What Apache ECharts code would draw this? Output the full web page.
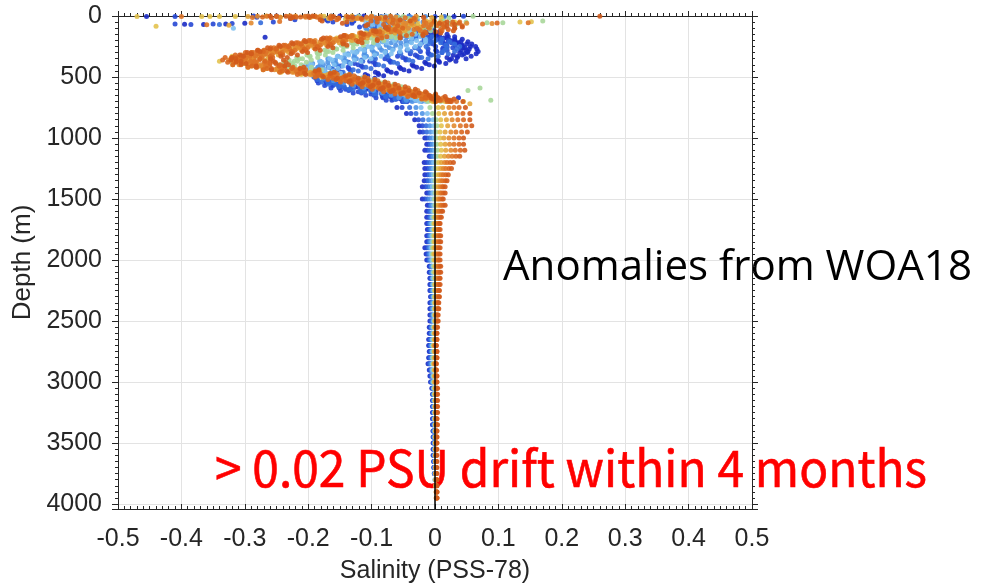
<!DOCTYPE html>
<html><head><meta charset="utf-8">
<script src="https://cdn.jsdelivr.net/npm/echarts@6/dist/echarts.min.js"></script>
<style>html,body{margin:0;padding:0;background:#fff}#c{width:992px;height:585px}</style>
</head><body><div id="c"></div>
<script>
// Colours of the 12 successive profile groups (early = blue, late = orange)
const profileColors = ['#1b2bc4','#2647d4','#346bdc','#4f93e6','#7fc0f0','#a9d79a',
                       '#e3c24e','#e3a43b','#e28a30','#de7428','#d96720','#d25b1c'];

// Upper ocean, first set of profiles: [depth (m), anomaly x1000 for P0..P11]
const shallowRows = [
[0,-150,-250,-120,-60,-200,-100,-230,-180,-220,-250,-200,-260],
[10,-128,-228,-96,-38,-182,-58,-196,-138,-204,-186,-162,-224],
[20,-134,-176,-108,-62,-141,-42,-107,-121,-137,-152,-88,-228],
[30,-96,-171,-71,-28,-139,-3,-82,-68,-131,-79,-66,-181],
[40,-104,-128,-79,-51,-104,14,-14,-57,-73,-58,-1,-178],
[50,-72,-131,-52,-19,-109,27,31,-9,-71,-2,28,-139],
[60,-79,-98,-81,-47,-86,3,-6,-41,-46,-14,38,-146],
[70,-57,-104,-64,-38,-99,8,4,-36,-59,-6,11,-106],
[80,-63,-76,-91,-58,-77,-14,-28,-63,-47,-18,43,-109],
[90,-42,-89,-79,-48,-88,-6,-21,-52,-54,-11,14,-78],
[100,-47,-62,-98,-67,-72,-27,-47,-63,-42,-28,31,-77],
[110,-24,-67,-73,-55,-86,-22,-58,-86,-68,-33,9,-74],
[120,-31,-43,-82,-64,-75,-47,-53,-78,-62,-61,11,-97],
[130,-9,-47,-59,-56,-85,-43,-77,-101,-87,-69,-16,-93],
[140,-14,-24,-64,-66,-74,-66,-73,-93,-83,-97,-14,-116],
[150,6,-26,-44,-54,-86,-64,-96,-117,-94,-104,-36,-113],
[160,2,-6,-48,-61,-72,-84,-96,-129,-106,-131,-45,-144],
[170,21,-11,-29,-44,-81,-79,-121,-128,-131,-134,-76,-149],
[180,14,9,-31,-54,-68,-101,-119,-151,-129,-166,-84,-176],
[190,31,4,-12,-36,-76,-96,-146,-154,-156,-169,-116,-179],
[200,24,21,-16,-46,-64,-116,-144,-176,-154,-196,-124,-206],
[210,41,12,-6,-39,-82,-112,-166,-174,-176,-194,-146,-204],
[220,34,26,-21,-54,-76,-132,-164,-196,-174,-216,-144,-226],
[230,50,18,-10,-46,-94,-129,-186,-194,-196,-214,-166,-224],
[240,42,32,-24,-62,-89,-148,-184,-216,-194,-236,-164,-246],
[250,56,19,-14,-54,-106,-144,-206,-214,-216,-234,-186,-244],
[260,44,28,-32,-72,-100,-162,-204,-236,-214,-254,-184,-264],
[270,54,12,-26,-66,-118,-156,-226,-234,-236,-250,-206,-260],
[280,41,19,-44,-84,-112,-174,-224,-256,-234,-270,-204,-280],
[290,52,3,-38,-78,-130,-168,-246,-254,-256,-266,-226,-276],
[300,39,11,-56,-96,-124,-186,-244,-276,-254,-286,-224,-296],
[310,46,-10,-54,-92,-142,-182,-264,-274,-274,-280,-244,-290],
[320,29,-7,-76,-112,-136,-202,-260,-296,-270,-298,-240,-308],
[330,36,-28,-74,-108,-154,-198,-280,-294,-290,-292,-260,-302],
[340,19,-25,-96,-128,-148,-218,-276,-316,-286,-310,-256,-320],
[350,26,-46,-94,-124,-166,-214,-296,-314,-306,-304,-276,-314],
[360,4,-46,-116,-144,-162,-230,-286,-320,-290,-306,-260,-322],
[370,6,-70,-114,-140,-182,-222,-300,-302,-298,-284,-268,-306],
[380,-16,-70,-136,-160,-178,-238,-290,-308,-282,-286,-252,-314],
[390,-14,-94,-134,-156,-198,-230,-304,-290,-290,-264,-260,-298],
[400,-36,-94,-156,-176,-194,-246,-294,-296,-274,-266,-244,-306],
[410,-34,-116,-150,-168,-208,-226,-294,-272,-272,-240,-246,-282],
[420,-56,-114,-168,-184,-198,-230,-270,-272,-246,-238,-224,-282],
[430,-54,-136,-162,-176,-212,-210,-270,-248,-244,-212,-226,-258],
[440,-76,-134,-180,-192,-202,-214,-246,-248,-218,-210,-204,-258],
[450,-74,-156,-174,-184,-216,-194,-246,-224,-216,-184,-206,-234],
[460,-94,-148,-187,-190,-192,-192,-216,-222,-190,-182,-184,-232],
[470,-90,-164,-176,-172,-192,-166,-210,-196,-188,-156,-186,-206],
[480,-110,-156,-189,-178,-168,-164,-180,-194,-162,-154,-164,-204],
[490,-106,-172,-178,-160,-168,-138,-174,-168,-160,-128,-166,-178],
[500,-126,-164,-191,-166,-144,-136,-144,-166,-134,-126,-144,-176],
[510,-116,-175,-176,-146,-148,-116,-146,-144,-138,-106,-148,-154],
[520,-130,-162,-185,-150,-128,-120,-124,-146,-118,-110,-128,-156],
[530,-120,-173,-170,-130,-132,-100,-126,-124,-122,-90,-132,-134],
[540,-134,-160,-179,-134,-112,-104,-104,-126,-102,-94,-112,-136],
[550,-124,-171,-164,-114,-116,-84,-106,-104,-106,-74,-116,-114],
[560,-132,-154,-168,-120,-96,-90,-86,-108,-86,-78,-96,-118],
[570,-116,-161,-148,-102,-100,-72,-90,-88,-90,-58,-100,-98],
[580,-124,-144,-152,-108,-80,-78,-70,-92,-70,-62,-80,-102],
[590,-108,-151,-132,-90,-84,-60,-74,-72,-74,-42,-84,-82],
[600,-116,-134,-136,-96,-64,-66,-54,-76,-54,-46,-64,-86],
[610,-96,-136,-114,-77,-70,-48,-58,-56,-58,-27,-68,-66],
[620,-100,-114,-116,-82,-52,-54,-38,-60,-38,-32,-48,-70],
[630,-80,-116,-94,-63,-58,-36,-42,-40,-42,-13,-52,-50],
[640,-84,-94,-96,-68,-40,-42,-22,-44,-22,-18,-32,-54],
[650,-64,-96,-74,-49,-46,-24,-26,-24,-26,1,-36,-34],
[660,-71,-77,-78,-56,-30,-31,-8,-29,-7,-5,-14,-32],
[670,-54,-82,-58,-39,-38,-14,-14,-10,-12,13,-16,-6],
[680,-61,-63,-62,-46,-22,-21,4,-15,7,7,6,-4],
[690,-44,-68,-42,-29,-30,-4,-2,4,2,25,4,22],
[700,-51,-49,-46,-36,-14,-11,16,-1,21,19,26,24]
];

// Upper ocean, second set of profiles (same colour groups)
const shallowRowsB = [
[0,-112,-286,-41,-163,-78,-71,-266,-131,-189,-164,-228,-193],
[10,-81,-281,-60,-124,-95,-28,-244,-85,-181,-101,-219,-130],
[20,-92,-228,-35,-134,-66,-31,-168,-84,-125,-90,-164,-116],
[30,-61,-221,-55,-97,-83,11,-141,-37,-115,-31,-155,-55],
[40,-71,-169,-31,-105,-55,9,-69,-35,-61,-17,-101,-39],
[50,-41,-161,-49,-71,-69,49,-41,9,-51,39,-91,19],
[60,-53,-131,-35,-93,-49,23,-27,-17,-37,15,-67,7],
[70,-29,-139,-57,-79,-65,33,-51,-7,-61,27,-81,31],
[80,-41,-111,-43,-101,-45,7,-39,-33,-49,3,-59,19],
[90,-17,-119,-65,-87,-61,17,-63,-23,-73,15,-73,43],
[100,-29,-91,-51,-109,-41,-9,-51,-49,-61,-9,-51,31],
[110,-5,-97,-45,-107,-39,-17,-61,-57,-71,-25,-63,21],
[120,-17,-67,-57,-87,-55,-7,-89,-47,-99,-23,-93,29],
[130,7,-73,-33,-103,-35,-33,-81,-73,-91,-57,-87,1],
[140,-5,-43,-45,-83,-51,-23,-109,-63,-119,-55,-117,9],
[150,19,-49,-21,-99,-31,-49,-101,-89,-111,-89,-111,-19],
[160,7,-23,-31,-77,-45,-41,-131,-83,-141,-85,-143,-19],
[170,31,-33,-5,-91,-23,-69,-125,-113,-135,-117,-139,-55],
[180,19,-7,-15,-69,-37,-61,-155,-107,-165,-113,-171,-55],
[190,43,-17,11,-83,-15,-89,-149,-137,-159,-145,-167,-91],
[200,31,9,1,-61,-29,-81,-179,-131,-189,-141,-199,-91],
[210,52,-7,23,-83,-15,-107,-171,-159,-181,-169,-191,-121],
[220,37,13,9,-69,-37,-97,-199,-151,-209,-161,-219,-115],
[230,58,-3,31,-91,-23,-123,-191,-179,-201,-189,-211,-145],
[240,43,17,17,-77,-45,-113,-219,-171,-229,-181,-239,-139],
[250,64,1,39,-99,-31,-139,-211,-199,-221,-209,-231,-169],
[260,47,13,19,-87,-55,-129,-239,-191,-249,-201,-259,-161],
[270,66,-11,35,-111,-43,-155,-231,-219,-241,-229,-251,-189],
[280,49,1,15,-99,-67,-145,-259,-211,-269,-221,-279,-181],
[290,68,-23,31,-123,-55,-171,-251,-239,-261,-249,-271,-209],
[300,51,-11,11,-111,-79,-161,-279,-231,-289,-241,-299,-201],
[310,65,-39,21,-137,-69,-185,-269,-257,-279,-267,-289,-227],
[320,43,-31,-5,-127,-95,-173,-295,-247,-305,-257,-315,-217],
[330,57,-59,5,-153,-85,-197,-285,-273,-295,-283,-305,-243],
[340,35,-51,-21,-143,-111,-185,-311,-263,-321,-273,-331,-233],
[350,49,-79,-11,-169,-101,-209,-301,-289,-311,-299,-321,-259],
[360,23,-73,-41,-157,-127,-195,-319,-269,-325,-277,-335,-239],
[370,33,-103,-35,-181,-117,-217,-301,-285,-303,-291,-313,-255],
[380,7,-97,-65,-169,-143,-203,-319,-265,-317,-269,-327,-235],
[390,17,-127,-59,-193,-133,-225,-301,-281,-295,-283,-305,-251],
[400,-9,-121,-89,-181,-159,-211,-319,-261,-309,-261,-319,-231],
[410,-1,-147,-81,-201,-145,-221,-289,-269,-277,-267,-289,-237],
[420,-29,-137,-109,-185,-167,-195,-295,-241,-281,-237,-295,-207],
[430,-21,-163,-101,-205,-153,-205,-265,-249,-249,-243,-265,-213],
[440,-49,-153,-129,-189,-175,-179,-271,-221,-253,-213,-271,-183],
[450,-41,-179,-121,-209,-161,-189,-241,-229,-221,-219,-241,-189],
[460,-69,-163,-145,-186,-173,-159,-243,-197,-225,-187,-245,-159],
[470,-61,-183,-133,-199,-149,-165,-209,-201,-193,-191,-213,-165],
[480,-89,-167,-157,-176,-161,-135,-211,-169,-197,-159,-217,-135],
[490,-81,-187,-145,-189,-137,-141,-177,-173,-165,-163,-185,-141],
[500,-109,-171,-169,-166,-149,-111,-179,-141,-169,-131,-189,-111],
[510,-95,-188,-150,-176,-123,-121,-149,-149,-141,-140,-161,-121],
[520,-117,-169,-167,-150,-133,-95,-155,-121,-149,-113,-169,-95],
[530,-103,-186,-148,-160,-107,-105,-125,-129,-121,-122,-141,-105],
[540,-125,-167,-165,-134,-117,-79,-131,-101,-129,-95,-149,-79],
[550,-111,-184,-146,-144,-91,-89,-101,-109,-101,-104,-121,-89],
[560,-125,-161,-157,-118,-102,-65,-111,-83,-111,-78,-131,-63],
[570,-103,-174,-132,-128,-77,-77,-85,-93,-85,-88,-105,-73],
[580,-117,-151,-143,-102,-88,-53,-95,-67,-95,-62,-115,-47],
[590,-95,-164,-118,-112,-63,-65,-69,-77,-69,-72,-89,-57],
[600,-109,-141,-129,-86,-74,-41,-79,-51,-79,-46,-99,-31],
[610,-83,-149,-102,-97,-50,-53,-53,-62,-53,-56,-72,-41],
[620,-93,-121,-111,-72,-62,-29,-63,-37,-63,-30,-81,-15],
[630,-67,-129,-84,-83,-38,-41,-37,-48,-37,-40,-54,-25],
[640,-77,-101,-93,-58,-50,-17,-47,-23,-47,-14,-63,1],
[650,-51,-109,-66,-69,-26,-29,-21,-34,-21,-24,-36,-9],
[660,-64,-83,-77,-45,-40,-7,-32,-9,-31,2,-43,16],
[670,-41,-93,-52,-57,-18,-21,-7,-20,-5,-8,-14,5],
[680,-54,-67,-63,-33,-32,1,-18,5,-15,18,-21,30],
[690,-31,-77,-38,-45,-10,-13,7,-6,11,8,8,19],
[700,-44,-51,-49,-21,-24,9,-4,19,1,34,1,44]
];

// Deep ocean standard levels: [depth (m), anomaly x1000 for P0..P11]
const deepRows = [
[750,-60,-52,-40,-30,-22,-8,5,12,22,30,38,48],
[800,-45,-38,-30,-20,-12,-4,6,15,25,35,44,55],
[850,-32,-26,-19,-10,-3,2,9,18,27,36,45,55],
[900,-25,-20,-14,-8,-2,3,10,20,30,40,49,58],
[950,-24,-19,-13,-7,-2,2,8,16,25,33,42,51],
[1000,-16,-13,-9,-5,-1,2,8,14,22,30,38,45],
[1050,-13,-10,-7,-4,0,3,9,16,23,30,38,45],
[1100,-16,-12,-8,-4,0,4,10,17,25,32,40,47],
[1150,-9,-7,-5,-2,1,4,9,15,21,27,33,39],
[1200,-17,-13,-9,-5,-2,2,6,10,15,19,24,29],
[1250,-16,-12,-8,-5,-2,1,5,9,13,17,22,26],
[1300,-16,-12,-9,-6,-3,0,4,7,10,13,17,21],
[1350,-17,-13,-10,-6,-3,0,3,6,9,12,16,19],
[1400,-20,-15,-11,-7,-4,-1,2,5,8,11,13,16],
[1450,-13,-10,-8,-5,-3,0,3,5,8,10,13,16],
[1500,-20,-16,-12,-8,-4,-1,2,4,6,8,11,13],
[1550,-12,-9,-7,-5,-2,0,3,5,8,10,13,16],
[1600,-13,-10,-8,-5,-3,-1,1,3,5,7,10,12],
[1650,-13,-10,-8,-6,-4,-2,0,2,4,6,8,10],
[1700,-13,-11,-9,-7,-5,-3,-1,1,3,5,7,8],
[1750,-12,-10,-8,-6,-4,-2,-1,1,3,5,6,8],
[1800,-13,-11,-9,-7,-5,-3,-1,1,3,5,7,9],
[1850,-13,-11,-9,-7,-5,-3,-1,1,3,5,7,9],
[1900,-16,-13,-10,-8,-6,-4,-2,0,2,4,6,8],
[1950,-14,-12,-10,-8,-6,-4,-2,0,2,4,6,8],
[2000,-13,-11,-9,-7,-5,-3,-1,1,3,5,6,8],
[2050,-9,-8,-6,-5,-3,-2,0,2,4,5,7,9],
[2100,-9,-8,-6,-5,-3,-2,0,2,4,5,7,9],
[2150,-8,-7,-5,-4,-3,-1,1,2,4,5,7,8],
[2200,-8,-7,-5,-4,-3,-1,0,2,3,5,6,8],
[2250,-8,-7,-5,-4,-2,-1,0,2,3,5,6,7],
[2300,-7,-6,-5,-3,-2,-1,0,2,3,4,6,7],
[2350,-8,-7,-5,-4,-2,-1,0,1,3,4,5,6],
[2400,-8,-7,-5,-4,-2,-1,0,1,3,4,5,6],
[2450,-8,-6,-5,-3,-2,-1,0,1,2,3,4,5],
[2500,-8,-6,-5,-3,-2,-1,0,1,2,3,4,5],
[2550,-9,-8,-6,-5,-3,-2,-1,0,1,2,3,4],
[2600,-9,-8,-6,-5,-3,-2,-1,0,1,2,3,3],
[2650,-10,-8,-7,-5,-4,-2,-1,0,1,2,3,3],
[2700,-10,-9,-7,-6,-4,-3,-2,-1,0,1,2,2],
[2750,-9,-8,-6,-5,-4,-2,-1,0,1,2,3,3],
[2800,-10,-9,-7,-5,-4,-3,-1,0,1,2,3,3],
[2850,-11,-9,-8,-6,-4,-3,-2,-1,0,1,2,2],
[2900,-9,-8,-6,-5,-4,-2,-1,0,1,2,2,2],
[2950,-8,-7,-5,-4,-3,-2,-1,0,1,2,3,3],
[3000,-7,-6,-5,-4,-3,-2,-1,0,1,2,3,3],
[3050,-5,-4,-3,-2,-2,-1,0,1,2,3,3,4],
[3100,-4,-3,-3,-2,-1,-1,0,1,2,2,3,4],
[3150,-4,-3,-2,-2,-1,0,0,1,2,2,3,4],
[3200,-4,-3,-2,-2,-1,0,0,1,1,2,3,4],
[3250,-4,-3,-2,-1,-1,0,0,1,1,2,3,4],
[3300,-4,-3,-2,-1,-1,0,0,1,1,2,3,3],
[3350,-4,-3,-2,-1,0,0,1,1,2,2,3,4],
[3400,-3,-3,-2,-1,0,0,1,1,2,2,3,3],
[3450,-3,-2,-2,-1,0,0,1,1,2,2,3,3],
[3500,-3,-2,-1,-1,0,0,1,1,2,2,3,3],
[3550,-3,-2,-1,-1,0,0,1,1,2,2,2,3],
[3600,-3,-2,-1,-1,0,0,1,1,1,2,2,3],
[3650,-2,-2,-1,0,0,1,1,1,2,2,2,3],
[3700,-2,-1,-1,0,0,1,1,1,2,2,2,3],
[3750,-1,-1,0,0,0,1,1,1,2,2,2,3],
[3800,null,null,null,0,0,1,1,2,2,2,3,3],
[3850,null,null,null,null,null,1,1,2,2,2,3,3],
[3900,null,null,null,null,null,null,2,2,2,3,3,3],
[3950,null,null,null,null,null,null,null,2,2,3,3,3]
];

// Isolated points: [profile group, anomaly x1000, depth (m)]
const extraPoints = [
[6,-470,5],[0,-455,5],[1,-410,5],[9,-400,5],[6,-368,5],[6,-355,5],[6,-340,5],[6,-315,5],
[7,-295,5],[8,-280,3],[9,-265,3],[10,-250,5],[11,-235,3],[8,-220,5],[9,-205,3],[10,-190,5],
[6,-175,3],[11,-160,5],[8,-140,3],[5,-120,5],[9,-100,3],[2,-85,5],[10,-70,3],[5,-50,5],
[8,-30,3],[3,-15,5],[1,0,5],[2,15,5],[0,30,5],[1,45,3],[5,60,3],
[9,-288,12],[10,-272,8],[11,-258,14],[8,-244,10],[9,-226,15],[10,-212,9],[11,-198,13],[8,-183,8],
[9,-166,12],[10,-152,16],[11,-137,9],[8,-122,14],[9,-108,10],[10,-93,17],[11,-78,11],[8,-62,8],
[9,-47,14],[10,-33,18],[11,-18,10],[7,-5,12],[6,10,9],[5,22,14],[3,-58,11],[2,-132,9],[0,-178,14],
[6,-440,85],[1,-410,65],[0,-395,68],[1,-385,70],[0,-365,70],[9,-360,72],[1,-350,66],[2,-340,70],
[0,-330,65],[7,-325,75],[1,-320,62],[4,-318,100],[0,-300,60],[8,-290,58],[2,-275,55],[0,-268,175],
[1,-255,50],[9,-245,45],
[8,50,60],[9,75,65],[5,82,55],[8,90,62],[10,98,58],[5,107,55],[6,134,50],[9,147,55],[6,152,48],
[5,170,40],[11,260,2],
[6,-340,370],[4,-320,375],[6,-320,330],[8,-307,390],[7,-295,350],[10,-290,300],[6,-280,410],[9,-275,320],
[5,52,610],[5,71,590],[5,88,690],[0,37,670],[6,45,700],[7,55,720]
];

const xRange = [-0.5, 0.5], xStep = 0.1;
const yRange = [0, 4040], yStep = 500;
const xName = 'Salinity (PSS-78)', yName = 'Depth (m)';
const note1 = 'Anomalies from WOA18';
const note2 = '> 0.02 PSU drift within 4 months';

const chart = echarts.init(document.getElementById('c'), null, {renderer:'canvas'});
const allRows = shallowRows.concat(shallowRowsB, deepRows);
const series = profileColors.map((c, k) => {
  const data = [];
  allRows.forEach(r => { const v = r[k + 1]; if (v !== null) data.push([v / 1000, r[0]]); });
  extraPoints.forEach(e => { if (e[0] === k) data.push([e[1] / 1000, e[2]]); });
  return {type:'scatter', data, symbolSize:5, silent:true, z:2,
          itemStyle:{color:c, opacity:0.9}};
});
series.push({type:'line', data:[], z:5, silent:true,
  markLine:{silent:true, symbol:'none', animation:false, label:{show:false},
    lineStyle:{color:'#000', width:1.5, type:'solid'}, data:[{xAxis:0}]}});

function fitScale(text, size, family, weight, width){
  const ctx = document.createElement('canvas').getContext('2d');
  ctx.font = weight + ' ' + size + 'px ' + family;
  return width / ctx.measureText(text).width;
}
const f1 = '"Open Sans"', f2 = '"Noto Sans CJK SC"';
const s1 = fitScale(note1, 42, f1, 'normal', 469);
const s2 = fitScale(note2, 50, f2, 'normal', 712);

const axCol = '#262626';
const lab = 'Liberation Sans';
const fmtX = v => String(+(+v).toFixed(1));
const fmtY = v => String(Math.round(v));
chart.setOption({
  animation:false,
  grid:{left:118, right:240, top:16, bottom:76, outerBoundsMode:'none', containLabel:false},
  xAxis:[{
    type:'value', min:xRange[0], max:xRange[1], interval:xStep, position:'bottom',
    axisLine:{show:true, onZero:false, lineStyle:{color:axCol}},
    axisTick:{show:true, inside:true, length:5, lineStyle:{color:axCol}},
    minorTick:{show:true, splitNumber:10, length:3, lineStyle:{color:axCol}},
    splitLine:{show:true, lineStyle:{color:'#e3e3e3'}},
    axisLabel:{formatter:fmtX, fontSize:25, color:axCol, fontFamily:lab, margin:18},
    name:xName, nameLocation:'middle', nameGap:50,
    nameTextStyle:{fontSize:25, color:axCol, fontFamily:lab}
  },{
    type:'value', min:xRange[0], max:xRange[1], interval:xStep, position:'top',
    axisLine:{show:true, onZero:false, lineStyle:{color:axCol}},
    axisTick:{show:true, inside:false, length:5, lineStyle:{color:axCol}},
    minorTick:{show:true, splitNumber:10, length:3, lineStyle:{color:axCol}},
    splitLine:{show:false}, axisLabel:{show:false}
  }],
  yAxis:[{
    type:'value', inverse:true, min:yRange[0], max:yRange[1], interval:yStep,
    axisLine:{show:true, onZero:false, lineStyle:{color:axCol}},
    axisTick:{show:true, inside:false, length:6, lineStyle:{color:axCol}},
    minorTick:{show:true, splitNumber:10, length:3, lineStyle:{color:axCol}},
    splitLine:{show:true, lineStyle:{color:'#e3e3e3'}},
    axisLabel:{formatter:fmtY, fontSize:25, color:axCol, fontFamily:lab, margin:16, showMaxLabel:false},
    name:yName, nameLocation:'middle', nameGap:78, nameRotate:90,
    nameTextStyle:{fontSize:26, color:axCol, fontFamily:lab}
  },{
    type:'value', inverse:true, min:yRange[0], max:yRange[1], interval:yStep, position:'right', z:3,
    axisLine:{show:true, onZero:false, lineStyle:{color:axCol}},
    axisTick:{show:true, inside:false, length:6, lineStyle:{color:axCol}},
    minorTick:{show:true, splitNumber:10, length:3, lineStyle:{color:axCol}},
    splitLine:{show:false}, axisLabel:{show:false}
  }],
  graphic:[
    {type:'text', x:503, y:268, z:1, scaleX:s1, silent:true,
     style:{text:note1, fontSize:42, fontFamily:f1, fill:'#000', align:'left', verticalAlign:'middle'}},
    {type:'text', x:215, y:468, z:1, scaleX:s2, silent:true,
     style:{text:note2, fontSize:50, fontFamily:f2, fill:'#ff0000', stroke:'#ff0000', lineWidth:0.6,
            align:'left', verticalAlign:'middle'}}
  ],
  series
});
</script></body></html>
